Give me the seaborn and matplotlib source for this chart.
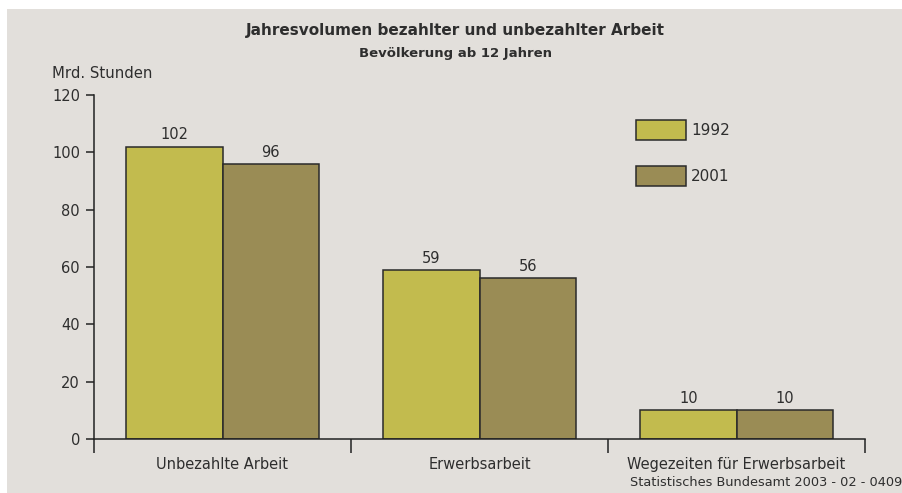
import pandas as pd
import matplotlib.pyplot as plt
import seaborn as sns
from matplotlib.patches import Rectangle

# Daten
categories = ["Unbezahlte Arbeit", "Erwerbsarbeit", "Wegezeiten für Erwerbsarbeit"]
years = ["1992", "2001"]
values_1992 = [102, 59, 10]
values_2001 = [96, 56, 10]
yticks = [0, 20, 40, 60, 80, 100, 120]

bg = "#e2dfdb"
txt = "#2e2e2e"
colors = {"1992": "#c2bb4e", "2001": "#9a8c55"}

sns.set_style("ticks")
plt.rcParams['font.family'] = ['DejaVu Sans']

df = pd.DataFrame({
    "Kategorie": categories * 2,
    "Jahr": [years[0]] * 3 + [years[1]] * 3,
    "Wert": values_1992 + values_2001,
})

fig = plt.figure(figsize=(9.02, 4.93), dpi=100, facecolor="white")
fig.patches.append(Rectangle((7 / 902, 0), 1, 1 - 9 / 493, transform=fig.transFigure,
                             facecolor=bg, edgecolor="none", zorder=-10))
ax = fig.add_axes([94 / 902, 1 - 439 / 493, (865 - 94) / 902, (439 - 95) / 493])
ax.patch.set_alpha(0)

sns.barplot(data=df, x="Kategorie", y="Wert", hue="Jahr", palette=colors,
            saturation=1, width=0.75, gap=0, edgecolor="#2a2a2a", linewidth=1.1, ax=ax)

for cont, vals in zip(ax.containers, [values_1992, values_2001]):
    ax.bar_label(cont, labels=[str(v) for v in vals], padding=3, fontsize=10.5, color=txt)

ax.set_xlim(-0.5, 2.5)
ax.set_ylim(0, 120)
ax.set_yticks(yticks)
ax.tick_params(axis="y", direction="out", length=6, width=1.1, color="#222222",
               labelsize=10.5, labelcolor=txt, pad=4)
ax.set_xticks(range(len(categories)))
ax.set_xticklabels(categories)
ax.tick_params(axis="x", which="major", length=0, labelsize=10.5, labelcolor=txt, pad=13)
ax.set_xticks([-0.5, 0.5, 1.5, 2.5], minor=True)
ax.tick_params(axis="x", which="minor", direction="out", length=10, width=1.1, color="#222222")
ax.set_xlabel("")
ax.set_ylabel("")
for s in ["top", "right"]:
    ax.spines[s].set_visible(False)
for s in ["left", "bottom"]:
    ax.spines[s].set_color("#222222")
    ax.spines[s].set_linewidth(1.1)

leg = ax.legend(loc="upper left", bbox_to_anchor=(636 / 902, 1 - 120 / 493),
                bbox_transform=fig.transFigure, frameon=False, fontsize=11,
                handlelength=3.3, handleheight=1.65, labelspacing=1.7,
                handletextpad=0.3, borderpad=0, borderaxespad=0, title=None)
for t in leg.get_texts():
    t.set_color(txt)

fig.text(455 / 902, 1 - 31 / 493, "Jahresvolumen bezahlter und unbezahlter Arbeit",
         ha="center", va="center", fontsize=11, fontweight="bold", color=txt)
fig.text(456 / 902, 1 - 53 / 493, "Bevölkerung ab 12 Jahren",
         ha="center", va="center", fontsize=9.5, fontweight="bold", color=txt)
fig.text(52 / 902, 1 - 74 / 493, "Mrd. Stunden", ha="left", va="center",
         fontsize=10.7, color=txt)
fig.text(1.0, 1 - 483 / 493, "Statistisches Bundesamt 2003 - 02 - 0409",
         ha="right", va="center", fontsize=9.3, color=txt)

fig.savefig("out.png", dpi=100, facecolor="white")
